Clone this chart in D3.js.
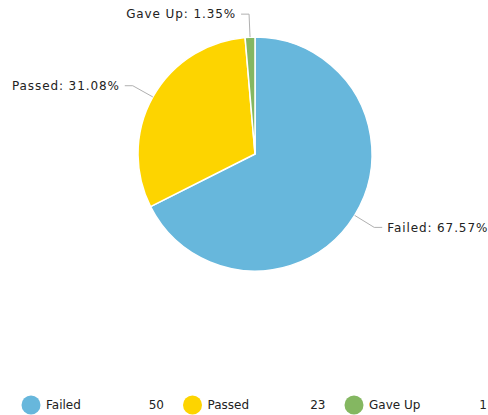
<!DOCTYPE html>
<html>
<head>
<meta charset="utf-8">
<script src="https://cdn.jsdelivr.net/npm/d3@7"></script>
<style>
  html, body { margin: 0; padding: 0; background: #fff; }
  svg { display: block; font-family: "DejaVu Sans", Verdana, sans-serif; }
</style>
</head>
<body>
<svg id="chart" width="488" height="415"></svg>
<script>
// Test outcome counts
const categories = ["Failed", "Passed", "Gave Up"];
const counts = [50, 23, 1];
const colors = ["#67b7dc", "#fdd400", "#84b761"];

const svg = d3.select("#chart");
const cx = 255, cy = 154, radius = 117;
const total = d3.sum(counts);
const data = categories.map((name, i) => ({ name, value: counts[i], color: colors[i] }));

const pie = d3.pie().sort(null).value(d => d.value);
const arcs = pie(data);
const arc = d3.arc().innerRadius(0).outerRadius(radius);

const g = svg.append("g").attr("transform", `translate(${cx},${cy})`);

g.selectAll("path.slice")
  .data(arcs)
  .join("path")
  .attr("class", "slice")
  .attr("d", arc)
  .attr("fill", d => d.data.color)
  .attr("stroke", "#fff")
  .attr("stroke-width", 1.5)
  .attr("stroke-linejoin", "round");

// Labels with elbow connectors
const elbowR = 140, tail = 8, gap = 5;
const pct = v => (v / total * 100).toFixed(2) + "%";

arcs.forEach(d => {
  const a = (d.startAngle + d.endAngle) / 2;
  const sx = Math.sin(a), sy = -Math.cos(a);
  const p0 = [sx * radius, sy * radius];
  const p1 = [sx * elbowR, sy * elbowR];
  const dir = sx >= 0 ? 1 : -1;
  const p2 = [p1[0] + dir * tail, p1[1]];
  g.append("polyline")
    .attr("points", [p0, p1, p2].map(p => p.join(",")).join(" "))
    .attr("fill", "none")
    .attr("stroke", "#b0b0b0")
    .attr("stroke-width", 1);
  g.append("text")
    .attr("x", p2[0] + dir * gap)
    .attr("y", p2[1])
    .attr("dy", "0.35em")
    .attr("text-anchor", dir > 0 ? "start" : "end")
    .attr("font-size", 12)
    .attr("letter-spacing", 0.9)
    .attr("fill", "#222")
    .text(`${d.data.name}: ${pct(d.data.value)}`);
});

// Legend
const legendY = 405;
const legendX = d3.scaleLinear().domain([0, 1]).range([31, 192.5]);
const items = svg.append("g").selectAll("g.item")
  .data(data)
  .join("g")
  .attr("class", "item")
  .attr("transform", (d, i) => `translate(${legendX(i)},${legendY})`);

items.append("circle").attr("r", 9.5).attr("fill", d => d.color);
items.append("text")
  .attr("x", 15).attr("dy", "0.35em")
  .attr("font-size", 12).attr("fill", "#222")
  .text(d => d.name);
items.append("text")
  .attr("x", 133).attr("dy", "0.35em")
  .attr("text-anchor", "end")
  .attr("font-size", 12).attr("fill", "#222")
  .text(d => d.value);
</script>
</body>
</html>
